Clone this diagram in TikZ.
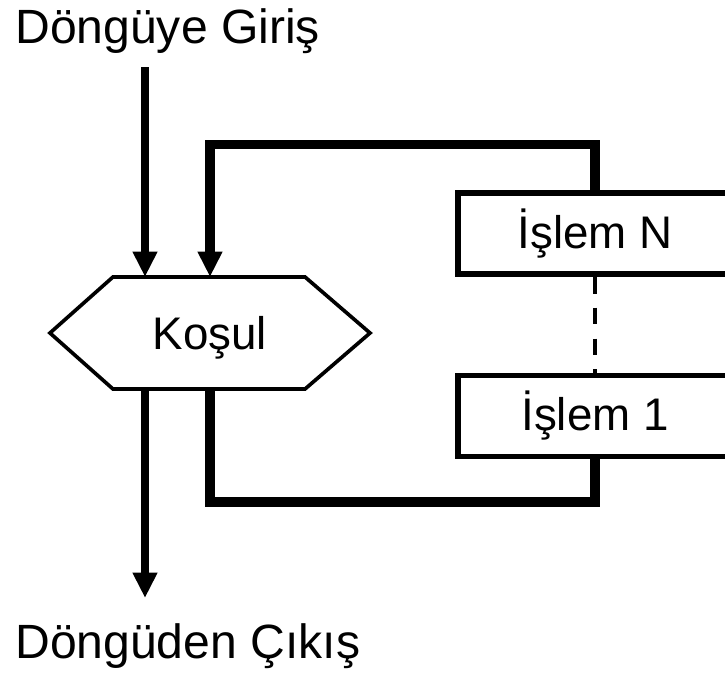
\documentclass[tikz,border=0pt]{standalone}
\usepackage{fontspec}
\setmainfont{Liberation Sans}
\usepackage{tikz}
\usetikzlibrary{arrows.meta,positioning}

\begin{document}
\begin{tikzpicture}[x=0.025cm, y=-0.025cm, >={Triangle[length=18pt, width=16.5pt]},
    font=\fontsize{32.5}{39}\selectfont,
    baslik/.style={anchor=base west, inner sep=0pt, font=\fontsize{34.2}{41}\selectfont},
    islemkutu/.style={draw, line width=3.8pt, minimum width=6.85cm, minimum height=2.025cm},
    donus/.style={line width=6.5pt},
    akis/.style={->, line width=5.5pt}]
  \useasboundingbox (0,0) rectangle (725,679);
  \node[baslik] (giristxt) at (15,43) {Döngüye Giriş};
  \node[baslik] (cikistxt) at (15,658) {Döngüden Çıkış};
  \node[minimum width=8cm, minimum height=2.8cm, inner sep=0pt, outer sep=0pt, text depth=0pt] (kosul) at (210,333) {Koşul};
  % alti kenarli kosul kutusu
  \draw[line width=2.6pt] (kosul.west) -- ([xshift=1.575cm]kosul.north west) -- ([xshift=-1.625cm]kosul.north east)
    -- (kosul.east) -- ([xshift=-1.625cm]kosul.south east) -- ([xshift=1.575cm]kosul.south west) -- cycle;
  \node[islemkutu] (islemN) at (595,233.5) {İşlem N};
  \node[islemkutu, below=2.4cm of islemN] (islem1) {İşlem 1};
  \coordinate (girisuc) at (145,67);
  \coordinate (cikisuc) at (145,598);
  % giris ve cikis oklari
  \draw[akis] (girisuc) -- (girisuc |- kosul.north);
  \draw[akis] (cikisuc |- kosul.south) -- (cikisuc);
  % islemlerden kosula donus
  \draw[donus, ->] (islemN.north) -- ++(0,-46) -| (kosul.north);
  \draw[donus] (kosul.south) -- ++(0,113) -| (islem1.south);
  \draw[line width=2.2pt, dash pattern=on 12pt off 10pt] (islemN.south) -- (islem1.north);
\end{tikzpicture}
\end{document}
